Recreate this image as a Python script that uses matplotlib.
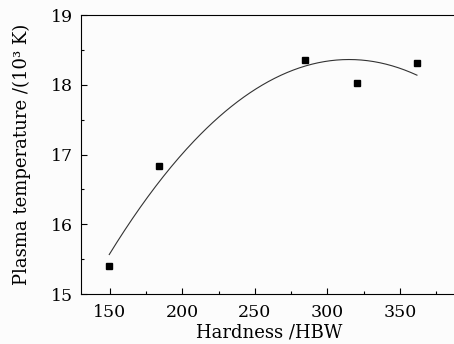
import numpy as np
import matplotlib
matplotlib.use('Agg')
import matplotlib.pyplot as plt
from matplotlib.ticker import MultipleLocator

# Measured points (hardness vs plasma temperature)
hardness = [149.5, 183.5, 284.8, 320.3, 361.8]
temperature = [15.40, 16.835, 18.355, 18.03, 18.31]

plt.rcParams['font.family'] = 'DejaVu Serif'

fig = plt.figure(figsize=(4.54, 3.44), dpi=100, facecolor='#fcfcfc')
ax = fig.add_axes([0.1784, 0.1453, 0.830, 0.811], facecolor='#fcfcfc')

# Quadratic fit through the measured points
coef = np.polyfit(hardness, temperature, 2)
xfit = np.linspace(min(hardness), max(hardness), 200)
ax.plot(xfit, np.polyval(coef, xfit), color='#333333', linewidth=0.8)
ax.plot(hardness, temperature, 's', color='black', markersize=4.3)

ax.set_xlim(130, 390)
ax.set_ylim(15, 19)
ax.xaxis.set_major_locator(MultipleLocator(50))
ax.xaxis.set_minor_locator(MultipleLocator(25))
ax.yaxis.set_major_locator(MultipleLocator(1))
ax.yaxis.set_minor_locator(MultipleLocator(0.5))
ax.tick_params(which='both', direction='in', top=False, right=False, labelsize=12.5, width=0.8)
ax.tick_params(which='major', length=4)
ax.tick_params(which='minor', length=2.5)
ax.tick_params(axis='x', pad=7)
ax.tick_params(axis='y', pad=6)
ax.spines['right'].set_visible(False)

ax.set_xlabel('Hardness /HBW', fontsize=13, labelpad=2)
ax.set_ylabel('Plasma temperature /(10³ K)', fontsize=13, labelpad=14)

plt.savefig('out.png', dpi=100, facecolor=fig.get_facecolor())
